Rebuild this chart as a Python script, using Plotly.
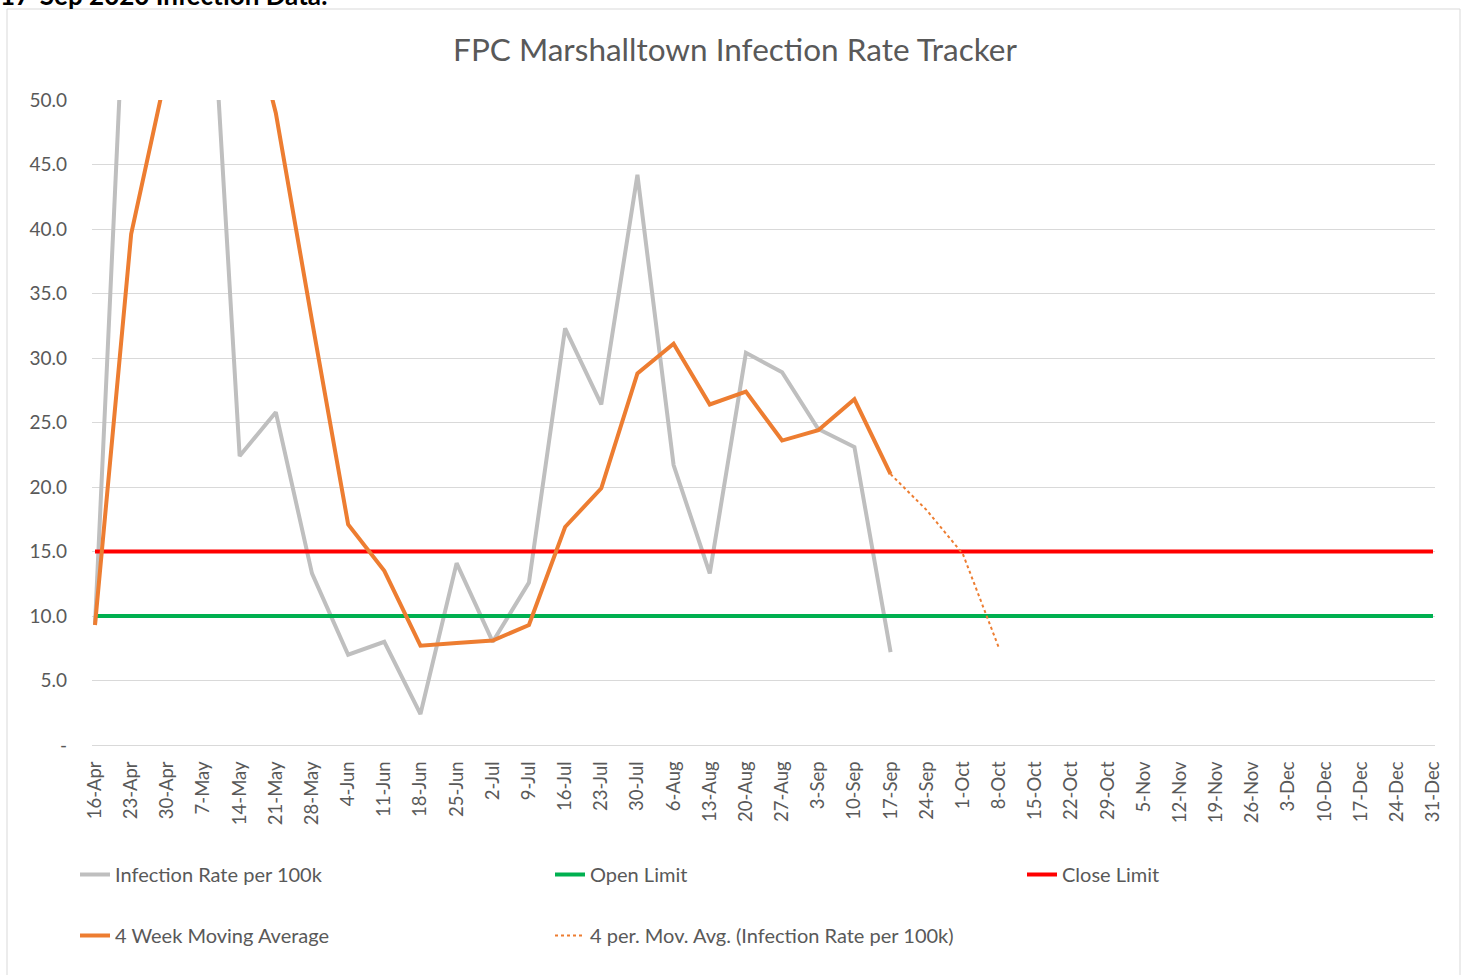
import plotly.graph_objects as go

weeks = ["16-Apr", "23-Apr", "30-Apr", "7-May", "14-May", "21-May", "28-May",
         "4-Jun", "11-Jun", "18-Jun", "25-Jun", "2-Jul", "9-Jul", "16-Jul",
         "23-Jul", "30-Jul", "6-Aug", "13-Aug", "20-Aug", "27-Aug", "3-Sep",
         "10-Sep", "17-Sep", "24-Sep", "1-Oct", "8-Oct", "15-Oct", "22-Oct",
         "29-Oct", "5-Nov", "12-Nov", "19-Nov", "26-Nov", "3-Dec", "10-Dec",
         "17-Dec", "24-Dec", "31-Dec"]

infection_rate = [9.3, 70.0, 78.0, 70.0, 22.4, 25.8, 13.3, 7.0, 8.0, 2.4, 14.1,
                  8.0, 12.6, 32.3, 26.4, 44.2, 21.7, 13.3, 30.4, 28.9, 24.5,
                  23.1, 7.2]
moving_avg = [9.3, 39.6, 52.5, 56.8, 60.1, 49.0, 32.9, 17.1, 13.5, 7.7, 7.9,
              8.1, 9.3, 16.9, 19.9, 28.8, 31.1, 26.4, 27.4, 23.6, 24.4, 26.8,
              21.0]
trend_weeks = ["17-Sep", "24-Sep", "1-Oct", "8-Oct"]
trend_vals = [21.0, 18.2, 14.8, 7.5]
open_limit = [10.0] * len(weeks)
close_limit = [15.0] * len(weeks)

ytick_vals = [0, 5, 10, 15, 20, 25, 30, 35, 40, 45, 50]
ytick_text = ["-", "5.0", "10.0", "15.0", "20.0", "25.0", "30.0", "35.0",
              "40.0", "45.0", "50.0"]

FONT = "Lato, 'Open Sans', sans-serif"
TXT = "#595959"

W, H = 1465, 975
L, R, T, B = 92, 30, 100, 230
pw, ph = W - L - R, H - T - B


def px_x(p):
    return (p - L) / pw


def px_y(p):
    return (H - B - p) / ph


fig = go.Figure()
fig.add_trace(go.Scatter(x=weeks[:len(infection_rate)], y=infection_rate,
                         mode="lines", name="Infection Rate per 100k",
                         line=dict(color="#bfbfbf", width=4),
                         legend="legend", legendgroup="a"))
fig.add_trace(go.Scatter(x=weeks, y=open_limit, mode="lines", name="Open Limit",
                         line=dict(color="#00b050", width=4),
                         legend="legend2", legendgroup="c"))
fig.add_trace(go.Scatter(x=weeks, y=close_limit, mode="lines", name="Close Limit",
                         line=dict(color="#ff0000", width=4),
                         legend="legend3", legendgroup="e"))
fig.add_trace(go.Scatter(x=weeks[:len(moving_avg)], y=moving_avg, mode="lines",
                         name="4 Week Moving Average",
                         line=dict(color="#ed7d31", width=4),
                         legend="legend", legendgroup="b"))
fig.add_trace(go.Scatter(x=trend_weeks, y=trend_vals, mode="lines",
                         name="4 per. Mov. Avg. (Infection Rate per 100k)",
                         line=dict(color="#ed7d31", width=2, dash="dot"),
                         legend="legend2", legendgroup="d"))

n = len(weeks)
sp = (1433 - 95) / (n - 1)
fig.update_xaxes(type="category", categoryorder="array", categoryarray=weeks,
                 range=[-(95 - L) / sp, (n - 1) + (L + pw - 1433) / sp],
                 tickangle=-90, showgrid=False, showline=True,
                 linecolor="#d9d9d9", linewidth=1, ticks="",
                 tickfont=dict(family=FONT, size=18.5, color=TXT),
                 ticklabelstandoff=8, zeroline=False)
fig.update_yaxes(range=[0, 50], tickvals=ytick_vals, ticktext=ytick_text,
                 showgrid=True, gridcolor="#d9d9d9", gridwidth=1,
                 zeroline=False, showline=False, ticks="",
                 tickfont=dict(family=FONT, size=19, color=TXT),
                 ticklabelstandoff=24)

leg_common = dict(orientation="v", xanchor="left", yanchor="top",
                  font=dict(family=FONT, size=20, color=TXT),
                  bgcolor="rgba(0,0,0,0)", traceorder="grouped",
                  tracegroupgap=32, itemwidth=30)

fig.update_layout(
    width=W, height=H,
    margin=dict(l=L, r=R, t=T, b=B, autoexpand=False),
    paper_bgcolor="white", plot_bgcolor="white",
    title=dict(text="FPC Marshalltown Infection Rate Tracker",
               x=px_x(735), xref="paper", xanchor="center",
               y=1 - 50 / H, yanchor="middle",
               font=dict(family=FONT, size=31.5, color=TXT)),
    legend=dict(x=px_x(75), y=px_y(855), **leg_common),
    legend2=dict(x=px_x(550), y=px_y(855), **leg_common),
    legend3=dict(x=px_x(1022), y=px_y(855), **leg_common),
    shapes=[dict(type="rect", xref="paper", yref="paper",
                 x0=px_x(7), x1=px_x(1460), y0=px_y(990), y1=px_y(9),
                 line=dict(color="#d9d9d9", width=1), layer="below")],
    annotations=[dict(text="<b>17-Sep 2020 Infection Data:</b>",
                      xref="paper", yref="paper", x=px_x(-2), y=px_y(13),
                      xanchor="left", yanchor="bottom", showarrow=False,
                      font=dict(family=FONT, size=26, color="black"))],
)

fig.write_html("out.html", config={"displayModeBar": False},
               post_script="document.body.style.margin='0';"
                           "document.body.style.padding='0';")
